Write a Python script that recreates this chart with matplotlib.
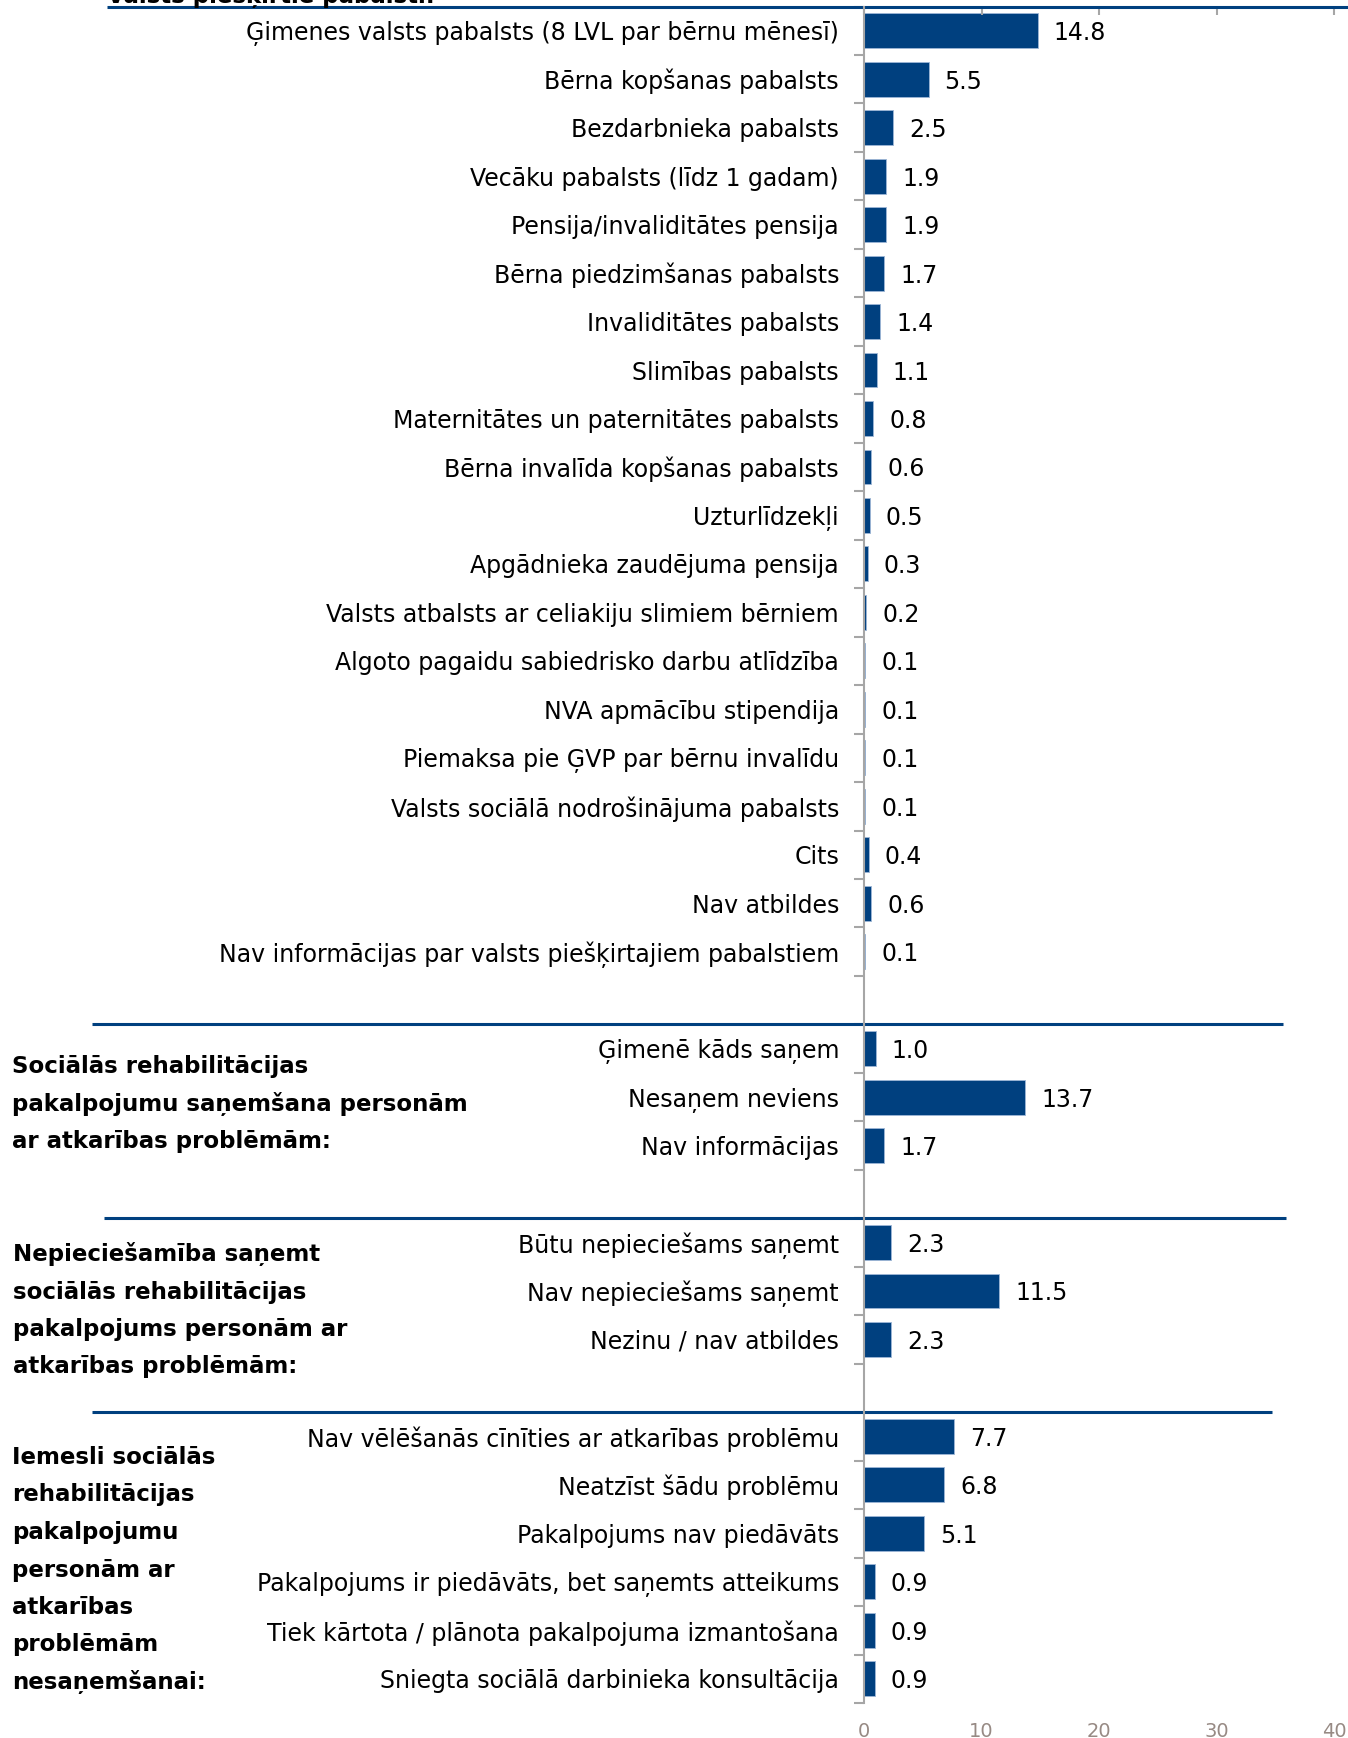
import matplotlib
matplotlib.use("Agg")
import matplotlib.pyplot as plt
from matplotlib.transforms import blended_transform_factory

# Dati (%)
pabalsti_labels = [
    "Ģimenes valsts pabalsts (8 LVL par bērnu mēnesī)",
    "Bērna kopšanas pabalsts",
    "Bezdarbnieka pabalsts",
    "Vecāku pabalsts (līdz 1 gadam)",
    "Pensija/invaliditātes pensija",
    "Bērna piedzimšanas pabalsts",
    "Invaliditātes pabalsts",
    "Slimības pabalsts",
    "Maternitātes un paternitātes pabalsts",
    "Bērna invalīda kopšanas pabalsts",
    "Uzturlīdzekļi",
    "Apgādnieka zaudējuma pensija",
    "Valsts atbalsts ar celiakiju slimiem bērniem",
    "Algoto pagaidu sabiedrisko darbu atlīdzība",
    "NVA apmācību stipendija",
    "Piemaksa pie ĢVP par bērnu invalīdu",
    "Valsts sociālā nodrošinājuma pabalsts",
    "Cits",
    "Nav atbildes",
    "Nav informācijas par valsts piešķirtajiem pabalstiem",
]
pabalsti_values = [14.8, 5.5, 2.5, 1.9, 1.9, 1.7, 1.4, 1.1, 0.8, 0.6,
                   0.5, 0.3, 0.2, 0.1, 0.1, 0.1, 0.1, 0.4, 0.6, 0.1]

sanem_labels = ["Ģimenē kāds saņem", "Nesaņem neviens", "Nav informācijas"]
sanem_values = [1.0, 13.7, 1.7]

vajag_labels = ["Būtu nepieciešams saņemt", "Nav nepieciešams saņemt",
                "Nezinu / nav atbildes"]
vajag_values = [2.3, 11.5, 2.3]

iemesli_labels = [
    "Nav vēlēšanās cīnīties ar atkarības problēmu",
    "Neatzīst šādu problēmu",
    "Pakalpojums nav piedāvāts",
    "Pakalpojums ir piedāvāts, bet saņemts atteikums",
    "Tiek kārtota / plānota pakalpojuma izmantošana",
    "Sniegta sociālā darbinieka konsultācija",
]
iemesli_values = [7.7, 6.8, 5.1, 0.9, 0.9, 0.9]

virsraksts_1 = ["Valsts piešķirtie pabalsti:"]
virsraksts_2 = ["Sociālās rehabilitācijas", "pakalpojumu saņemšana personām",
                "ar atkarības problēmām:"]
virsraksts_3 = ["Nepieciešamība saņemt", "sociālās rehabilitācijas",
                "pakalpojums personām ar", "atkarības problēmām:"]
virsraksts_4 = ["Iemesli sociālās", "rehabilitācijas", "pakalpojumu",
                "personām ar", "atkarības", "problēmām", "nesaņemšanai:"]

x_ticks = [0, 10, 20, 30, 40]

BLUE = "#00407F"
GREY = "#A6A6A6"
W, H = 1348, 1738

plt.rcParams["font.family"] = "DejaVu Sans"

# Saliek visas grupas vienā sarakstā ar tukšām rindām starp grupām
groups = [
    (pabalsti_labels, pabalsti_values),
    (sanem_labels, sanem_values),
    (vajag_labels, vajag_values),
    (iemesli_labels, iemesli_values),
]
labels, values, group_start = [], [], []
for gi, (lab, val) in enumerate(groups):
    if gi > 0:
        labels.append("")
        values.append(None)
    group_start.append(len(labels))
    labels.extend(lab)
    values.extend(val)
n = len(labels)

fig = plt.figure(figsize=(W / 100, H / 100), dpi=100)
ax = fig.add_axes([864 / W, 1 - 1703 / H, (1334 - 864) / W, (1703 - 6.5) / H])

for i, v in enumerate(values):
    if v is None:
        continue
    ax.barh(i, v, height=0.72, color=BLUE, edgecolor="#9DB6D6", linewidth=0.6)
    ax.annotate(f"{v:.1f}", (v, i), xytext=(16, 0), textcoords="offset pixels",
                va="center_baseline", ha="left", fontsize=17, color="black")

ax.set_xlim(0, 40)
ax.set_ylim(n - 0.5, -0.5)

# Kategoriju nosaukumi
ax.set_yticks(range(n))
ax.set_yticklabels(labels, fontsize=17, va="center_baseline")
ax.tick_params(axis="y", which="major", length=0, pad=18)
ax.set_yticks([i - 0.5 for i in range(n + 1)], minor=True)
ax.tick_params(axis="y", which="minor", length=7, width=1.5, color=GREY,
               direction="out")

ax.set_xticks(x_ticks)
ax.set_xticklabels([str(t) for t in x_ticks])
ax.tick_params(axis="x", bottom=False, top=True, labelbottom=True,
               labeltop=False, direction="in", length=6, width=1.5,
               color=GREY, labelcolor="#978A84", labelsize=14, pad=14)

for s in ["top", "right", "bottom"]:
    ax.spines[s].set_visible(False)
ax.spines["left"].set_color(GREY)
ax.spines["left"].set_linewidth(1.5)

# Zilās atdalošās līnijas
tr = blended_transform_factory(fig.transFigure, ax.transData)
line_x = [(107, 1348), (92, 1283), (104, 1286), (92, 1272)]
for gs, (x0, x1) in zip(group_start, line_x):
    ax.plot([x0 / W, x1 / W], [gs - 0.5, gs - 0.5], transform=tr, color=BLUE,
            linewidth=2.2, clip_on=False, solid_capstyle="butt")

# Virsraksti pa kreisi
fig.text(107 / W, 1 - 3 / H, virsraksts_1[0], fontsize=16.5,
         fontweight="bold", va="baseline")
heads = [
    (virsraksts_2, 12, 1064),
    (virsraksts_3, 13, 1252),
    (virsraksts_4, 12, 1455),
]
for lines, x0, y0 in heads:
    for k, line in enumerate(lines):
        fig.text(x0 / W, 1 - (y0 + k * 37.5) / H, line, fontsize=16.5,
                 fontweight="bold", va="center_baseline", ha="left")

fig.savefig("out.png", dpi=100)
